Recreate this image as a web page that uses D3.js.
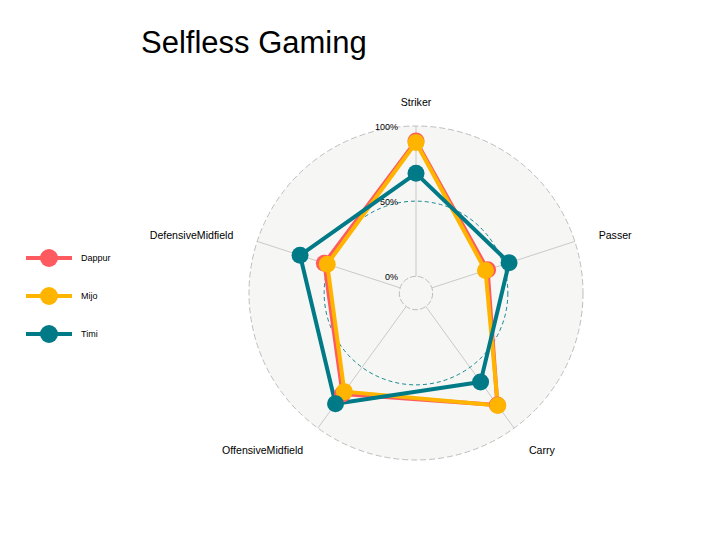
<!DOCTYPE html>
<html>
<head>
<meta charset="utf-8">
<script src="https://cdn.jsdelivr.net/npm/d3@7"></script>
<style>
  html, body { margin: 0; padding: 0; background: #ffffff; }
  svg { display: block; font-family: "Liberation Sans", Arial, sans-serif; }
</style>
</head>
<body>
<svg id="chart" width="705" height="550"></svg>
<script>
const axes = ["Striker", "Passer", "Carry", "OffensiveMidfield", "DefensiveMidfield"];
const players = ["Dappur", "Mijo", "Timi"];
const dappur = [0.90, 0.39, 0.81, 0.72, 0.53];
const mijo   = [0.89, 0.375, 0.815, 0.70, 0.51];
const timi   = [0.685, 0.54, 0.62, 0.80, 0.70];
const gridValues = [0, 0.5, 1];
const gridLabels = ["0%", "50%", "100%"];
const colors = ["#FF5A5F", "#FFB400", "#007A87"];
const title = "Selfless Gaming";

const series = [dappur, mijo, timi];

const svg = d3.select("#chart");
const cx = 416, cy = 293, R = 167;
const centreY = -1 / 9;
const r = d3.scaleLinear().domain([centreY, 1]).range([0, R]);
const angle = d3.scaleLinear().domain([0, axes.length]).range([0, 2 * Math.PI]);

const g = svg.append("g").attr("transform", `translate(${cx},${cy})`);

// background circle
g.append("circle").attr("r", R).attr("fill", "#F6F6F4").attr("stroke", "none");

// axis lines
axes.forEach((a, i) => {
  const t = angle(i);
  g.append("line")
    .attr("x1", r(0) * Math.sin(t)).attr("y1", -r(0) * Math.cos(t))
    .attr("x2", R * Math.sin(t)).attr("y2", -R * Math.cos(t))
    .attr("stroke", "#BEBEBE").attr("stroke-width", 0.8);
});

// grid circles
g.append("circle").attr("r", r(0)).attr("fill", "none")
  .attr("stroke", "#BEBEBE").attr("stroke-width", 1).attr("stroke-dasharray", "6,2");
g.append("circle").attr("r", r(0.5)).attr("fill", "none")
  .attr("stroke", "#007A87").attr("stroke-width", 0.9).attr("stroke-dasharray", "4,3");
g.append("circle").attr("r", r(1)).attr("fill", "none")
  .attr("stroke", "#BEBEBE").attr("stroke-width", 1).attr("stroke-dasharray", "6,3");

// grid labels
gridValues.forEach((v, i) => {
  g.append("text")
    .attr("x", -18).attr("y", -r(v) + 1)
    .attr("text-anchor", "end").attr("dominant-baseline", "central")
    .attr("font-size", 9).attr("fill", "#000")
    .text(gridLabels[i]);
});

// axis labels
axes.forEach((a, i) => {
  const t = angle(i);
  const x = 1.15 * R * Math.sin(t), y = -1.15 * R * Math.cos(t);
  const anchor = Math.abs(x) < 1 ? "middle" : (x > 0 ? "start" : "end");
  g.append("text")
    .attr("x", x).attr("y", y + 1.5)
    .attr("text-anchor", anchor).attr("dominant-baseline", "central")
    .attr("font-size", 10.6).attr("fill", "#000")
    .text(a);
});

// lines
const line = d3.lineRadial()
  .angle((d, i) => angle(i))
  .radius(d => r(d))
  .curve(d3.curveLinearClosed);

series.forEach((s, k) => {
  g.append("path").datum(s)
    .attr("d", line)
    .attr("fill", "none")
    .attr("stroke", colors[k])
    .attr("stroke-width", 4)
    .attr("stroke-linejoin", "round");
});

// points
series.forEach((s, k) => {
  g.selectAll(null).data(s).enter().append("circle")
    .attr("cx", (d, i) => r(d) * Math.sin(angle(i)))
    .attr("cy", (d, i) => -r(d) * Math.cos(angle(i)))
    .attr("r", 8.5)
    .attr("fill", colors[k]);
});

// legend
const leg = d3.scalePoint().domain(players).range([258, 334]);
players.forEach((p, k) => {
  const y = leg(p);
  svg.append("line").attr("x1", 26).attr("x2", 72).attr("y1", y).attr("y2", y)
    .attr("stroke", colors[k]).attr("stroke-width", 4);
  svg.append("circle").attr("cx", 49).attr("cy", y).attr("r", 9).attr("fill", colors[k]);
  svg.append("text").attr("x", 81).attr("y", y).attr("dominant-baseline", "central")
    .attr("font-size", 9).attr("fill", "#000").text(p);
});

// title
svg.append("text").attr("x", 141).attr("y", 53)
  .attr("font-size", 31).attr("fill", "#000").text(title);
</script>
</body>
</html>
